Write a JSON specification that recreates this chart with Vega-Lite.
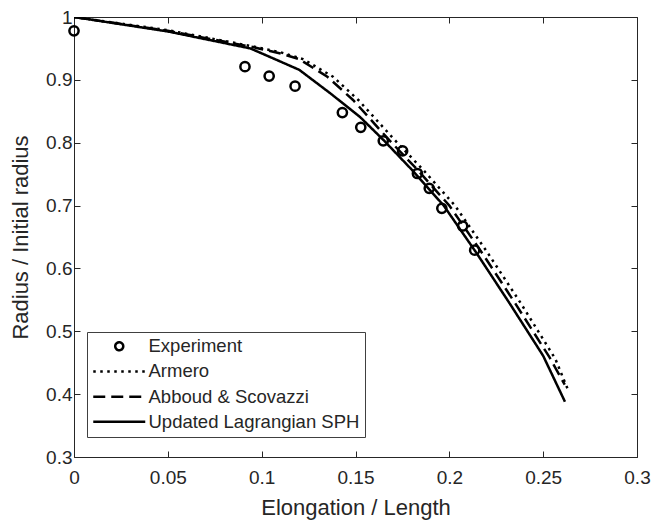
{
  "$schema": "https://vega.github.io/schema/vega-lite/v6.json",
  "width": 563,
  "height": 440,
  "autosize": {"type": "none"},
  "padding": {"left": 74, "top": 17, "right": 14, "bottom": 67},
  "background": "white",
  "config": {
    "view": {"stroke": null},
    "font": "Liberation Sans",
    "axis": {
      "grid": false,
      "domainColor": "#262626",
      "domainWidth": 1,
      "tickColor": "#262626",
      "tickWidth": 1,
      "tickSize": -6,
      "labelColor": "#262626",
      "labelFont": "Liberation Sans",
      "labelFontSize": 19,
      "titleColor": "#262626",
      "titleFont": "Liberation Sans",
      "titleFontSize": 22,
      "titleFontWeight": "normal",
      "labelFlush": false,
      "labelOverlap": false,
      "labelBound": false
    }
  },
  "datasets": {
    "lines": [
      {"series": "Updated Lagrangian SPH", "x": 0, "y": 1},
      {"series": "Updated Lagrangian SPH", "x": 0.05, "y": 0.977},
      {"series": "Updated Lagrangian SPH", "x": 0.094, "y": 0.95},
      {"series": "Updated Lagrangian SPH", "x": 0.12, "y": 0.916},
      {"series": "Updated Lagrangian SPH", "x": 0.1364, "y": 0.879},
      {"series": "Updated Lagrangian SPH", "x": 0.1524, "y": 0.841},
      {"series": "Updated Lagrangian SPH", "x": 0.165, "y": 0.804},
      {"series": "Updated Lagrangian SPH", "x": 0.18, "y": 0.757},
      {"series": "Updated Lagrangian SPH", "x": 0.197, "y": 0.7},
      {"series": "Updated Lagrangian SPH", "x": 0.2146, "y": 0.624},
      {"series": "Updated Lagrangian SPH", "x": 0.232, "y": 0.545},
      {"series": "Updated Lagrangian SPH", "x": 0.25, "y": 0.461},
      {"series": "Updated Lagrangian SPH", "x": 0.2616, "y": 0.388},
      {"series": "Abboud & Scovazzi", "x": 0, "y": 1},
      {"series": "Abboud & Scovazzi", "x": 0.05, "y": 0.978},
      {"series": "Abboud & Scovazzi", "x": 0.094, "y": 0.953},
      {"series": "Abboud & Scovazzi", "x": 0.11, "y": 0.942},
      {"series": "Abboud & Scovazzi", "x": 0.12, "y": 0.933},
      {"series": "Abboud & Scovazzi", "x": 0.135, "y": 0.905},
      {"series": "Abboud & Scovazzi", "x": 0.1487, "y": 0.868},
      {"series": "Abboud & Scovazzi", "x": 0.168, "y": 0.804},
      {"series": "Abboud & Scovazzi", "x": 0.183, "y": 0.757},
      {"series": "Abboud & Scovazzi", "x": 0.2, "y": 0.7},
      {"series": "Abboud & Scovazzi", "x": 0.2176, "y": 0.624},
      {"series": "Abboud & Scovazzi", "x": 0.235, "y": 0.545},
      {"series": "Abboud & Scovazzi", "x": 0.2535, "y": 0.458},
      {"series": "Abboud & Scovazzi", "x": 0.2615, "y": 0.415},
      {"series": "Armero", "x": 0, "y": 1},
      {"series": "Armero", "x": 0.05, "y": 0.979},
      {"series": "Armero", "x": 0.094, "y": 0.954},
      {"series": "Armero", "x": 0.11, "y": 0.944},
      {"series": "Armero", "x": 0.122, "y": 0.933},
      {"series": "Armero", "x": 0.138, "y": 0.905},
      {"series": "Armero", "x": 0.1515, "y": 0.868},
      {"series": "Armero", "x": 0.171, "y": 0.804},
      {"series": "Armero", "x": 0.186, "y": 0.757},
      {"series": "Armero", "x": 0.203, "y": 0.7},
      {"series": "Armero", "x": 0.2206, "y": 0.624},
      {"series": "Armero", "x": 0.238, "y": 0.545},
      {"series": "Armero", "x": 0.2565, "y": 0.456},
      {"series": "Armero", "x": 0.2632, "y": 0.407}
    ],
    "exp": [
      {"x": 0, "y": 0.978},
      {"x": 0.0911, "y": 0.921},
      {"x": 0.104, "y": 0.906},
      {"x": 0.1178, "y": 0.89},
      {"x": 0.143, "y": 0.848},
      {"x": 0.1528, "y": 0.8245},
      {"x": 0.1648, "y": 0.803},
      {"x": 0.1751, "y": 0.787},
      {"x": 0.183, "y": 0.751},
      {"x": 0.1893, "y": 0.7275},
      {"x": 0.196, "y": 0.6957},
      {"x": 0.2071, "y": 0.6675},
      {"x": 0.2135, "y": 0.629}
    ]
  },
  "layer": [
    {
      "data": {"name": "lines"},
      "mark": {"type": "line", "color": "black", "strokeWidth": 2.5, "clip": true},
      "encoding": {
        "x": {
          "field": "x", "type": "quantitative",
          "scale": {"domain": [0, 0.3], "nice": false, "zero": false},
          "axis": {"orient": "bottom", "values": [0, 0.05, 0.1, 0.15, 0.2, 0.25, 0.3], "format": "~g", "labelPadding": 17, "title": "Elongation / Length", "titlePadding": 10}
        },
        "y": {
          "field": "y", "type": "quantitative",
          "scale": {"domain": [0.3, 1], "nice": false, "zero": false},
          "axis": {"orient": "left", "values": [0.3, 0.4, 0.5, 0.6, 0.7, 0.8, 0.9, 1], "format": "~g", "labelPadding": 8, "title": "Radius / Initial radius", "titlePadding": 13}
        },
        "strokeDash": {
          "field": "series", "type": "nominal",
          "scale": {
            "domain": ["Experiment", "Armero", "Abboud & Scovazzi", "Updated Lagrangian SPH"],
            "range": [[1, 0], [2.5, 4.5], [12, 6], [1, 0]]
          },
          "legend": {
            "orient": "none",
            "legendX": 13,
            "legendY": 315,
            "title": null,
            "padding": 5,
            "strokeColor": "#404040",
            "fillColor": "white",
            "symbolType": "M-4,0L4,0",
            "symbolSize": 169,
            "symbolOffset": 18,
            "symbolStrokeWidth": 2.5,
            "symbolStrokeColor": "black",
            "labelFont": "Liberation Sans",
            "labelFontSize": 18.5,
            "labelColor": "#262626",
            "labelOffset": 20,
            "labelLimit": 400,
            "rowPadding": 6.2,
            "encode": {
              "symbols": {
                "update": {
                  "shape": {"signal": "datum.value === 'Experiment' ? 'circle' : 'M-4,0L4,0'"},
                  "size": {"signal": "datum.value === 'Experiment' ? 64 : 169"},
                  "fill": {"value": "transparent"},
                  "stroke": {"value": "black"}
                }
              }
            }
          }
        }
      }
    },
    {
      "data": {"name": "exp"},
      "mark": {"type": "point", "shape": "circle", "filled": false, "color": "black", "size": 85, "strokeWidth": 2.5, "opacity": 1},
      "encoding": {
        "x": {
          "field": "x", "type": "quantitative",
          "axis": {"orient": "top", "values": [0, 0.05, 0.1, 0.15, 0.2, 0.25, 0.3], "labels": false, "title": null}
        },
        "y": {
          "field": "y", "type": "quantitative",
          "axis": {"orient": "right", "values": [0.3, 0.4, 0.5, 0.6, 0.7, 0.8, 0.9, 1], "labels": false, "title": null}
        }
      }
    }
  ],
  "resolve": {"axis": {"x": "independent", "y": "independent"}}
}
